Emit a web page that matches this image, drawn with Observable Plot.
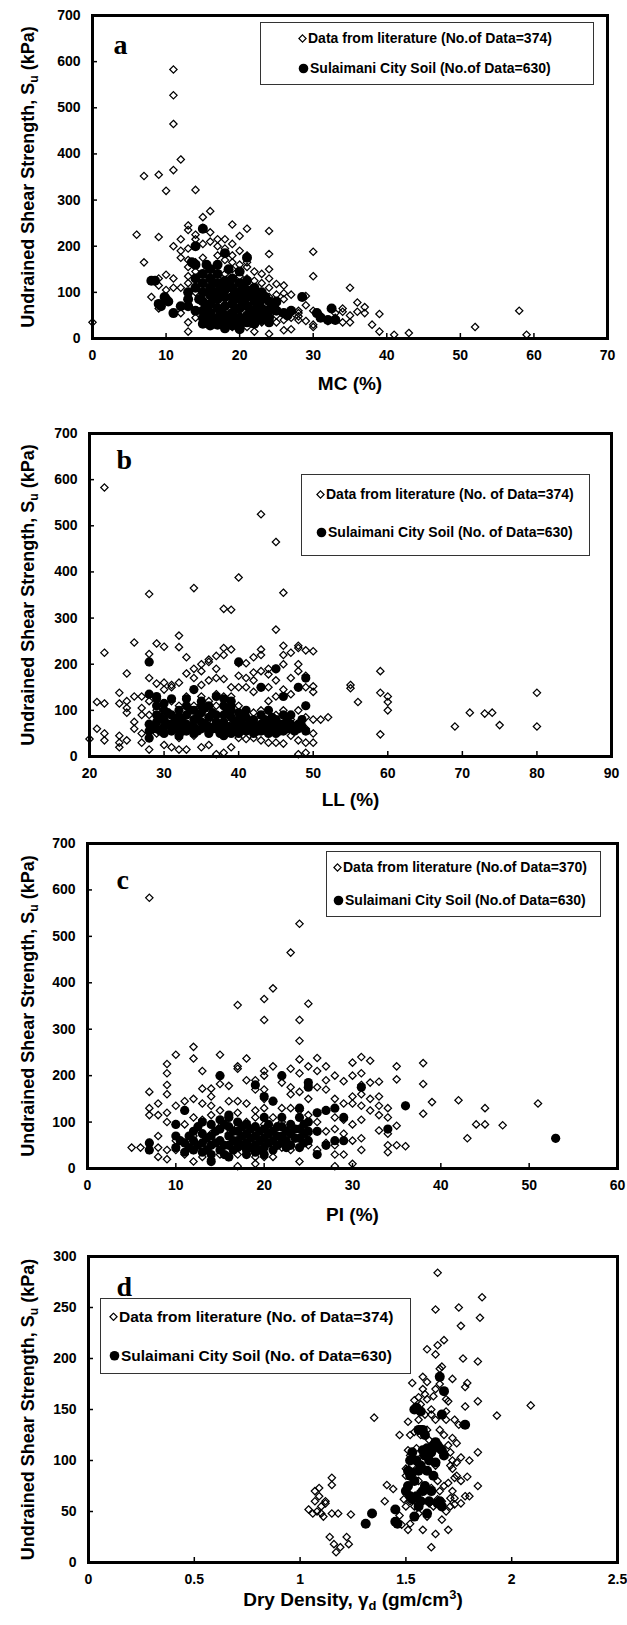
<!DOCTYPE html>
<html><head><meta charset="utf-8">
<script src="https://cdn.jsdelivr.net/npm/d3@7"></script>
<script src="https://cdn.jsdelivr.net/npm/@observablehq/plot@0.6"></script>
<style>
body{margin:0;background:#fff;}
#root{position:relative;width:627px;height:1625px;font-family:"Liberation Sans",Arial,sans-serif;overflow:hidden;}
.panel{position:absolute;left:0;}
.legend{position:absolute;border:1px solid #333;background:#fff;box-sizing:border-box;}
.lrow{position:absolute;font-weight:bold;white-space:nowrap;line-height:1;transform:translateY(-50%);display:flex;align-items:center;color:#000;}
.lrow svg{margin-right:1px;}
</style></head><body><div id="root"></div>
<script>
// ---------- data ----------
// Panel a: MC (%) vs Su (kPa)
const litMC = [[0,35],[6,225],[7,165],[7,352],[9,355],[9,220],[10,320],[11,365],[11,465],[11,527],[11,583],[12,388],[14,322],[16,276],[15,263],[19,247],[21,238],[24,233],[24,183],[30,188],[30,135],[35,110],[36,78],[37,68],[37,55],[38,30],[39,53],[39,15],[41,8],[43,12],[52,25],[58,60],[59,8],[34,65],[34,35],[35,50],[35,35],[33,45],[32,38],[31,45],[29,92],[29,72],[28,60],[28,40],[27,20],[26,98],[26,115],[26,18],[25,118],[24,10],[22,145],[22,15],[13,15],[13,35],[12,55],[11,200],[11,110],[11,130],[9,65],[9,115],[8,90],[10,138],[12,175],[12,215],[13,245],[13,235],[14,225],[14,200],[15,240],[16,230],[16,210],[17,200],[18,215],[19,205],[19,180],[20,222],[20,190],[18,170],[17,180],[15,175],[14,165],[13,155],[13,195],[13,170],[13,135],[13,120],[14,145],[14,100],[15,120],[16,150],[16,90],[17,160],[17,130],[18,140],[18,110],[19,150],[19,120],[20,160],[20,135],[21,180],[21,155],[21,130],[22,110],[22,90],[23,120],[23,100],[24,150],[24,130],[24,110],[24,90],[25,95],[25,75],[26,85],[27,95],[27,60],[26,55],[25,50],[24,40],[23,35],[22,30],[21,25],[20,20],[19,25],[18,30],[17,35],[16,40],[15,33],[14,45],[16,60],[17,70],[18,60],[19,55],[20,50],[21,45],[22,55],[23,60],[24,65],[25,35],[26,40],[27,45],[28,55],[30,25],[30,30],[32,38],[33,40],[12,110],[10,105],[9,130],[30,60],[31,50],[20,100],[19,95],[18,85],[17,100],[16,110],[15,100],[21,75],[22,70],[23,80],[20,70],[18,45],[12,190],[14,215],[15,205],[17,215],[18,195],[19,165],[21,165],[22,125],[23,140],[25,65],[28,48],[29,38],[33,55],[34,58],[36,58]];
const sulMC = [[8,125],[8.5,125],[9,75],[9.3,70],[9.8,90],[10,85],[10.3,80],[11,55],[12,70],[13,70],[13,100],[14,60],[15,238],[14.5,85],[15,140],[15,120],[15,100],[15,80],[15,60],[15,45],[16,130],[16,110],[16,95],[16,75],[16,55],[16,40],[17,160],[17,140],[17,120],[17,100],[17,85],[17,65],[17,45],[17,30],[18,185],[18,125],[18,105],[18,90],[18,70],[18,50],[18,35],[19,130],[19,110],[19,90],[19,75],[19,55],[19,40],[19,28],[20,145],[20,120],[20,100],[20,85],[20,65],[20,45],[20,30],[21,175],[21,125],[21,105],[21,90],[21,70],[21,50],[21,35],[22,110],[22,95],[22,80],[22,60],[22,45],[23,100],[23,85],[23,65],[23,50],[24,80],[24,60],[24,45],[25,80],[25,60],[26,55],[26.5,50],[27,60],[28.5,90],[30.5,55],[31,45],[32,40],[32.5,65],[33,40],[14,200],[14,160],[16,150],[13.5,165],[15.5,70],[16.5,85],[17.5,55],[18.5,115],[19.5,65],[20.5,110],[21.5,60],[22.5,75],[23.5,90],[16,28],[18,22],[20,20],[22,32],[23,40],[24,35],[15,32],[14,110],[14,130],[13,85],[16.5,120],[18.5,150],[19.5,100],[17.5,110],[20.5,80],[21.5,95],[22.5,50],[23.5,60],[24.5,70],[15.5,160]];

// Panel b: LL (%) vs Su (kPa)
const litLL = [[20,38],[21,60],[21,118],[22,115],[22,225],[22,583],[22,50],[22,35],[24,45],[24,20],[24,30],[24,115],[24,138],[25,180],[25,120],[25,95],[25,105],[25,35],[26,247],[26,130],[26,75],[26,60],[27,105],[27,130],[27,90],[27,30],[27,50],[28,352],[28,222],[28,205],[28,170],[28,120],[28,90],[28,40],[28,15],[29,245],[29,158],[29,100],[29,50],[30,238],[30,160],[30,145],[30,60],[30,25],[31,155],[31,150],[31,120],[31,20],[32,262],[32,237],[32,160],[32,110],[32,40],[32,15],[33,215],[33,180],[33,130],[33,90],[33,60],[33,15],[34,365],[34,190],[34,170],[34,145],[34,110],[34,45],[35,200],[35,185],[35,155],[35,130],[35,95],[35,20],[36,210],[36,205],[36,165],[36,120],[36,80],[36,25],[37,218],[37,190],[37,170],[37,135],[37,110],[37,70],[37,5],[38,320],[38,235],[38,220],[38,168],[38,130],[38,90],[38,8],[39,318],[39,232],[39,150],[39,130],[39,70],[39,20],[40,388],[40,202],[40,175],[40,150],[40,110],[40,40],[41,202],[41,170],[41,150],[41,85],[41,38],[42,215],[42,182],[42,165],[42,140],[42,95],[42,40],[43,525],[43,232],[43,220],[43,185],[43,150],[43,100],[43,35],[44,190],[44,178],[44,150],[44,120],[44,80],[44,30],[45,465],[45,275],[45,190],[45,165],[45,130],[45,90],[45,30],[46,355],[46,240],[46,220],[46,200],[46,145],[46,100],[46,28],[47,225],[47,170],[47,135],[47,80],[47,45],[48,240],[48,235],[48,200],[48,185],[48,150],[48,100],[48,35],[48,5],[49,230],[49,175],[49,150],[49,110],[49,85],[49,60],[49,30],[49,8],[50,228],[50,152],[50,140],[50,80],[50,50],[50,30],[51,80],[52,85],[55,155],[55,148],[56,118],[59,185],[59,138],[59,48],[60,130],[60,118],[60,100],[69,65],[71,95],[73,93],[74,95],[75,68],[80,138],[80,65]];
const sulLL = [[28,70],[28,55],[28,40],[28,205],[28,135],[29,125],[29,110],[29,90],[29,75],[29,60],[30,100],[30,80],[30,65],[30,50],[31,125],[31,90],[31,70],[31,55],[32,85],[32,70],[32,60],[32,45],[33,125],[33,110],[33,90],[33,70],[33,55],[34,145],[34,100],[34,80],[34,65],[34,50],[35,120],[35,95],[35,75],[35,60],[36,110],[36,85],[36,65],[36,50],[37,130],[37,90],[37,75],[37,60],[38,110],[38,90],[38,75],[38,55],[38,45],[39,120],[39,100],[39,85],[39,65],[39,50],[40,95],[40,80],[40,60],[40,50],[41,85],[41,65],[41,55],[42,80],[42,60],[42,50],[43,150],[43,90],[43,70],[43,55],[44,100],[44,75],[44,60],[44,50],[45,190],[45,80],[45,60],[45,50],[46,130],[46,90],[46,70],[46,55],[47,90],[47,70],[47,60],[48,150],[48,70],[48,60],[49,170],[49,110],[49,55],[29,130],[40,205],[34,60],[36,55],[42,72],[28.5,60],[29.5,85],[29.5,55],[30.5,70],[30.5,95],[31.5,60],[31.5,80],[32.5,75],[32.5,55],[33.5,65],[33.5,100],[34.5,85],[34.5,55],[35.5,70],[35.5,105],[36.5,60],[36.5,95],[37.5,70],[37.5,50],[38.5,65],[38.5,100],[39.5,75],[39.5,55],[40.5,70],[40.5,90],[41.5,60],[41.5,75],[42.5,65],[42.5,55],[43.5,80],[43.5,60],[44.5,65],[44.5,85],[45.5,55],[45.5,70],[46.5,60],[46.5,80],[47.5,65],[47.5,55],[48.5,65],[48.5,80],[30,115],[32,100],[35,110],[38,125],[39,110],[41,100]];

// Panel c: PI (%) vs Su (kPa)
const litPI = [[5,45],[6,45],[7,583],[7,165],[7,130],[7,115],[7,55],[7,40],[8,140],[8,115],[8,70],[8,45],[8,25],[9,225],[9,205],[9,180],[9,160],[9,120],[9,100],[9,40],[9,20],[10,245],[10,135],[10,95],[10,60],[10,40],[11,145],[11,125],[11,95],[11,55],[11,30],[12,262],[12,237],[12,150],[12,110],[12,70],[12,40],[12,15],[13,210],[13,172],[13,140],[13,105],[13,55],[13,25],[14,172],[14,155],[14,135],[14,115],[14,75],[14,50],[14,20],[15,245],[15,200],[15,182],[15,125],[15,90],[15,30],[16,178],[16,145],[16,110],[16,75],[16,25],[17,352],[17,220],[17,215],[17,145],[17,120],[17,90],[17,30],[17,5],[18,237],[18,190],[18,140],[18,100],[18,60],[18,40],[19,190],[19,170],[19,125],[19,110],[19,65],[19,25],[19,10],[20,365],[20,320],[20,210],[20,200],[20,170],[20,150],[20,130],[20,95],[20,60],[20,25],[21,388],[21,220],[21,145],[21,110],[21,70],[21,25],[22,200],[22,185],[22,130],[22,100],[22,60],[22,45],[23,465],[23,215],[23,175],[23,160],[23,130],[23,90],[23,40],[24,527],[24,320],[24,275],[24,235],[24,205],[24,165],[24,125],[24,85],[24,45],[24,15],[25,355],[25,220],[25,180],[25,150],[25,115],[25,75],[25,50],[26,238],[26,210],[26,175],[26,120],[26,100],[26,40],[27,220],[27,190],[27,170],[27,125],[27,80],[27,55],[28,200],[28,150],[28,110],[28,85],[28,50],[28,30],[28,5],[29,188],[29,140],[29,105],[29,75],[29,30],[30,228],[30,200],[30,155],[30,140],[30,95],[30,60],[30,10],[31,240],[31,205],[31,180],[31,160],[31,135],[31,105],[31,65],[31,40],[32,232],[32,185],[32,150],[32,125],[33,187],[33,155],[33,135],[33,115],[33,82],[34,130],[34,110],[34,75],[34,50],[34,35],[35,220],[35,192],[35,92],[35,50],[36,48],[36,135],[38,227],[38,182],[38,118],[39,143],[42,147],[43,65],[44,95],[45,130],[45,95],[47,93],[51,140],[53,65]];
const sulPI = [[7,55],[7,40],[10,95],[10,70],[10,45],[11,125],[11,55],[11,35],[12,80],[12,60],[12,40],[13,100],[13,75],[13,55],[13,35],[14,95],[14,70],[14,50],[14,30],[14,15],[15,105],[15,85],[15,60],[15,40],[16,115],[16,90],[16,70],[16,50],[16,25],[17,100],[17,80],[17,60],[17,45],[18,95],[18,75],[18,55],[18,40],[19,90],[19,70],[19,50],[19,35],[20,110],[20,85],[20,65],[20,45],[21,80],[21,60],[21,40],[22,90],[22,70],[22,55],[23,95],[23,75],[23,50],[24,110],[24,85],[24,65],[24,45],[25,175],[25,100],[25,80],[25,60],[26,120],[26,80],[26,30],[27,125],[27,50],[28,130],[28,60],[29,110],[29,60],[15,200],[20,155],[21,145],[25,185],[36,135],[53,65],[34,85],[31,175],[19,180],[22,200],[10.5,60],[11.5,70],[11.5,45],[12.5,90],[12.5,50],[13.5,65],[13.5,40],[14.5,80],[14.5,55],[15.5,95],[15.5,50],[15.5,30],[16.5,80],[16.5,60],[16.5,40],[17.5,90],[17.5,70],[17.5,50],[18.5,85],[18.5,65],[18.5,45],[19.5,80],[19.5,60],[19.5,40],[20.5,95],[20.5,75],[20.5,55],[21.5,90],[21.5,70],[21.5,50],[22.5,80],[22.5,60],[22.5,45],[23.5,85],[23.5,65],[24.5,95],[24.5,75],[24.5,55],[20,30],[18,30],[16,110],[22,110],[24,130]];

// Panel d: Dry density (gm/cm3) vs Su (kPa)
const litDD = [[1.04,52],[1.06,48],[1.07,60],[1.07,70],[1.08,50],[1.09,73],[1.09,65],[1.10,55],[1.10,48],[1.11,45],[1.12,60],[1.12,58],[1.14,25],[1.15,83],[1.15,76],[1.15,48],[1.16,18],[1.17,10],[1.18,48],[1.19,15],[1.22,25],[1.23,18],[1.24,47],[1.35,142],[1.41,76],[1.40,60],[1.44,72],[1.46,40],[1.47,46],[1.48,37],[1.49,62],[1.50,55],[1.51,32],[1.52,38],[1.53,176],[1.51,138],[1.52,125],[1.47,125],[1.54,159],[1.55,150],[1.56,162],[1.57,155],[1.58,182],[1.58,170],[1.59,165],[1.60,177],[1.60,209],[1.62,145],[1.63,163],[1.64,248],[1.64,204],[1.65,213],[1.65,284],[1.66,190],[1.67,192],[1.68,218],[1.66,175],[1.69,160],[1.70,158],[1.72,180],[1.73,140],[1.75,250],[1.76,232],[1.77,200],[1.78,153],[1.78,172],[1.79,176],[1.84,197],[1.84,158],[1.85,240],[1.86,260],[1.93,144],[2.09,154],[1.75,135],[1.77,135],[1.74,117],[1.72,122],[1.72,100],[1.74,98],[1.76,103],[1.80,100],[1.84,108],[1.79,84],[1.76,80],[1.73,83],[1.72,92],[1.84,75],[1.80,65],[1.78,65],[1.76,58],[1.71,63],[1.73,57],[1.70,32],[1.67,42],[1.64,28],[1.62,15],[1.58,32],[1.60,45],[1.56,48],[1.54,55],[1.52,60],[1.50,70],[1.50,85],[1.50,92],[1.51,110],[1.52,105],[1.53,95],[1.55,98],[1.56,80],[1.57,70],[1.58,60],[1.59,90],[1.60,130],[1.61,120],[1.62,100],[1.63,110],[1.64,95],[1.65,80],[1.66,70],[1.67,110],[1.68,125],[1.69,140],[1.70,115],[1.71,95],[1.66,130],[1.64,140],[1.62,150],[1.55,112],[1.57,125],[1.59,145],[1.61,58],[1.63,55],[1.65,62],[1.67,60],[1.69,50],[1.71,55],[1.73,63],[1.68,75],[1.70,78],[1.72,70],[1.62,73],[1.58,105],[1.54,128],[1.56,140],[1.60,160],[1.64,170],[1.69,148],[1.71,108],[1.74,85]];
const sulDD = [[1.31,38],[1.34,48],[1.45,52],[1.45,40],[1.46,38],[1.50,70],[1.51,75],[1.52,65],[1.53,88],[1.52,100],[1.53,108],[1.54,150],[1.55,152],[1.56,130],[1.57,130],[1.58,110],[1.59,105],[1.60,112],[1.61,100],[1.60,90],[1.59,75],[1.58,70],[1.57,60],[1.56,55],[1.55,65],[1.54,80],[1.53,62],[1.62,108],[1.63,115],[1.64,118],[1.65,115],[1.66,112],[1.67,110],[1.68,105],[1.65,58],[1.66,60],[1.67,55],[1.60,48],[1.61,60],[1.63,85],[1.64,98],[1.56,90],[1.55,100],[1.57,95],[1.66,182],[1.68,168],[1.67,145],[1.78,135],[1.54,45],[1.58,130],[1.62,70],[1.52,85],[1.51,90],[1.59,125],[1.57,148]];

// axis ticks and labels
const ticksMC = [0,10,20,30,40,50,60,70];
const ticksLL = [20,30,40,50,60,70,80,90];
const ticksPI = [0,10,20,30,40,50,60];
const ticksDD = [0,0.5,1,1.5,2,2.5];
const ticksSu700 = [0,100,200,300,400,500,600,700];
const ticksSu300 = [0,50,100,150,200,250,300];
const yTitle = "Undrained Shear Strength, S_{u} (kPa)";
const xTitles = ["MC (%)", "LL (%)", "PI (%)", "Dry Density, \u03b3_{d} (gm/cm^{3})"];
const letters = ["a","b","c","d"];
const legendA = ["Data from literature (No.of Data=374)", "Sulaimani City Soil (No.of Data=630)"];
const legendB = ["Data from literature (No. of Data=374)", "Sulaimani City Soil (No. of Data=630)"];
const legendC = ["Data from literature (No.of Data=370)", "Sulaimani City Soil (No.of Data=630)"];
const legendD = ["Data from literature (No. of Data=374)", "Sulaimani City Soil (No. of Data=630)"];

// ---------- drawing ----------
const FONT = "'Liberation Sans', Arial, sans-serif";
const root = document.getElementById("root");

// turn "_{..}" / "^{..}" markers into sub/superscript tspans (baseline-shift keeps anchoring intact)
function richify(svg) {
  d3.select(svg).selectAll("text").each(function() {
    const s = this.textContent;
    if (!/[_^]\{/.test(s)) return;
    const el = d3.select(this);
    el.text(null);
    const re = /([_^])\{([^}]*)\}|([^_^]+)/g;
    let m;
    while ((m = re.exec(s))) {
      if (m[3] !== undefined) { el.append("tspan").text(m[3]); }
      else {
        const sub = m[1] === "_";
        el.append("tspan")
          .attr("baseline-shift", sub ? "-4px" : "7px")
          .attr("font-size", "0.68em")
          .text(m[2]);
      }
    }
  });
}

function makePanel(p) {
  const chart = Plot.plot({
    width: 627, height: p.height,
    marginLeft: p.ml, marginRight: p.mr, marginTop: p.mt, marginBottom: p.mb,
    style: {fontFamily: FONT, fontSize: "14px", fontWeight: "bold", color: "black", background: "transparent", overflow: "visible"},
    x: {domain: p.xDomain, label: null},
    y: {domain: p.yDomain, label: null},
    marks: [
      Plot.dot(p.lit, {x: d => d[0], y: d => d[1], symbol: "diamond2", r: 3.3, stroke: "black", strokeWidth: 1.25, fill: "none"}),
      Plot.dot(p.sul, {x: d => d[0], y: d => d[1], r: p.sulR, fill: "black", stroke: "none"}),
      Plot.axisX(p.xTicks, {tickSize: -5, tickPadding: 17, strokeWidth: 1.5, tickFormat: d => String(d), label: null, fontSize: 14, fontWeight: "bold"}),
      Plot.axisY(p.yTicks, {tickSize: -5, tickPadding: 17, strokeWidth: 1.5, tickFormat: d => String(d), label: null, fontSize: 14, fontWeight: "bold"}),
      Plot.frame({stroke: "black", strokeWidth: 3}),
      Plot.text([p.xTitle], {frameAnchor: "bottom", dy: p.xTitleDy, text: d => d, fontSize: 19, fontWeight: "bold", fill: "black"}),
      Plot.text([yTitle], {frameAnchor: "left", rotate: -90, dx: -(p.ml - 28), text: d => d, fontSize: 18, fontWeight: "bold", fill: "black", textAnchor: "middle"}),
      Plot.text([p.letter], {frameAnchor: "top-left", dx: p.letterDx, dy: p.letterDy, text: d => d, fontFamily: "'Liberation Serif', 'Times New Roman', serif", fontSize: 28, fontWeight: "bold", fill: "black"})
    ]
  });
  const wrap = document.createElement("div");
  wrap.className = "panel";
  wrap.style.top = p.top + "px";
  wrap.style.width = "627px";
  wrap.style.height = p.height + "px";
  wrap.appendChild(chart);
  // legend box
  const L = p.legend;
  const box = document.createElement("div");
  box.className = "legend";
  box.style.left = L.x + "px"; box.style.top = (L.y - p.top) + "px";
  box.style.width = L.w + "px"; box.style.height = L.h + "px";
  wrap.appendChild(box);
  const rows = [
    {y: L.r1, label: p.legendText[0], sym: `<svg width="9" height="9" viewBox="-4.5 -4.5 9 9"><path d="M0,-3.6L3.6,0L0,3.6L-3.6,0Z" fill="none" stroke="black" stroke-width="1.2"/></svg>`},
    {y: L.r2, label: p.legendText[1], sym: `<svg width="11" height="11" viewBox="-5.5 -5.5 11 11"><circle r="4.8" fill="black"/></svg>`}
  ];
  for (const r of rows) {
    const d = document.createElement("div");
    d.className = "lrow";
    d.style.left = (L.sx - 5) + "px";
    d.style.top = (r.y - p.top) + "px";
    d.style.fontSize = L.fs + "px";
    d.innerHTML = r.sym + "<span>" + r.label + "</span>";
    wrap.appendChild(d);
  }
  root.appendChild(wrap);
  richify(chart);
}

const panels = [
  {top: 0, height: 405, ml: 92, mr: 20, mt: 15, mb: 67, xDomain: [0,70], yDomain: [0,700], xTicks: ticksMC, yTicks: ticksSu700,
   lit: litMC, sul: sulMC, sulR: 5, xTitle: xTitles[0], xTitleDy: 51, letter: letters[0], letterDx: 21, letterDy: 19,
   legend: {x: 260, y: 22, w: 334, h: 63, r1: 38, r2: 68, sx: 303, fs: 14}, legendText: legendA},
  {top: 405, height: 410, ml: 89, mr: 16, mt: 28, mb: 59, xDomain: [20,90], yDomain: [0,700], xTicks: ticksLL, yTicks: ticksSu700,
   lit: litLL, sul: sulLL, sulR: 4.6, xTitle: xTitles[1], xTitleDy: 49, letter: letters[1], letterDx: 27, letterDy: 16,
   legend: {x: 301, y: 474, w: 289, h: 82, r1: 494, r2: 532, sx: 321, fs: 14}, legendText: legendB},
  {top: 815, height: 420, ml: 87, mr: 10, mt: 28, mb: 67, xDomain: [0,60], yDomain: [0,700], xTicks: ticksPI, yTicks: ticksSu700,
   lit: litPI, sul: sulPI, sulR: 4.6, xTitle: xTitles[2], xTitleDy: 52, letter: letters[2], letterDx: 29, letterDy: 26,
   legend: {x: 326, y: 851, w: 275, h: 66, r1: 867, r2: 900, sx: 338, fs: 14}, legendText: legendC},
  {top: 1235, height: 390, ml: 88, mr: 10, mt: 21, mb: 63, xDomain: [0,2.5], yDomain: [0,300], xTicks: ticksDD, yTicks: ticksSu300,
   lit: litDD, sul: sulDD, sulR: 5, xTitle: xTitles[3], xTitleDy: 43, letter: letters[3], letterDx: 28, letterDy: 20,
   legend: {x: 100, y: 1298, w: 311, h: 76, r1: 1317, r2: 1356, sx: 114, fs: 15.5}, legendText: legendD}
];
panels.forEach(makePanel);
</script>
</body></html>
